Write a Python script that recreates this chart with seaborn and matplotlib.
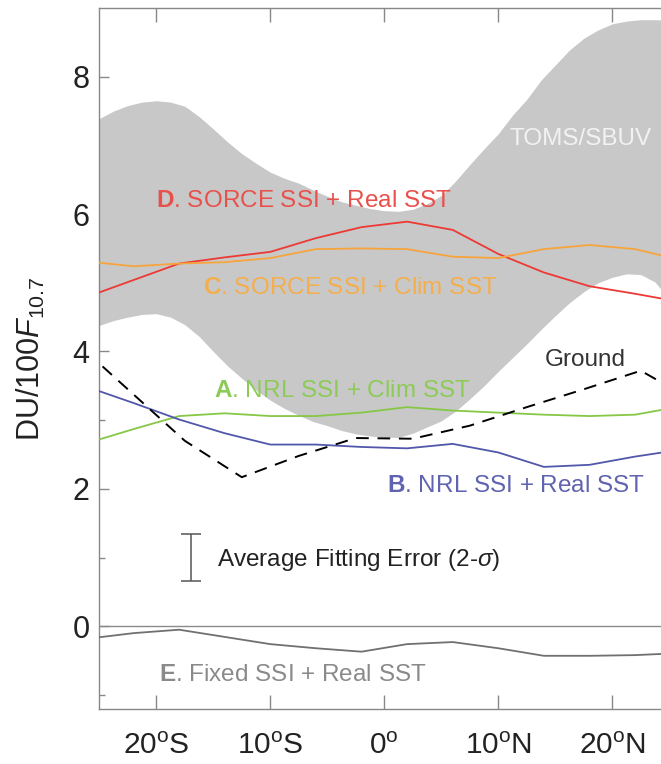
import matplotlib
matplotlib.use("Agg")
import matplotlib.pyplot as plt
import seaborn as sns

# model latitudes (4 degree bins)
lat = [-26, -22, -18, -14, -10, -6, -2, 2, 6, 10, 14, 18, 22, 26]
sorce_real = [4.80, 5.04, 5.28, 5.37, 5.45, 5.65, 5.81, 5.89, 5.77, 5.42, 5.15, 4.95, 4.84, 4.72]
sorce_clim = [5.31, 5.24, 5.28, 5.30, 5.36, 5.49, 5.50, 5.49, 5.38, 5.36, 5.49, 5.55, 5.49, 5.33]
nrl_clim = [2.67, 2.87, 3.06, 3.10, 3.06, 3.06, 3.11, 3.19, 3.14, 3.11, 3.08, 3.06, 3.08, 3.20]
nrl_real = [3.48, 3.25, 3.01, 2.81, 2.645, 2.645, 2.61, 2.59, 2.655, 2.53, 2.32, 2.35, 2.47, 2.57]
fixed_real = [-0.18, -0.10, -0.05, -0.155, -0.26, -0.32, -0.37, -0.26, -0.23, -0.32, -0.43, -0.43, -0.42, -0.39]

# ground stations (5 degree bins)
lat_ground = [-27.5, -22.5, -17.5, -12.5, -7.5, -2.5, 2.5, 7.5, 12.5, 17.5, 22.5, 27.5]
ground = [4.20, 3.45, 2.70, 2.17, 2.48, 2.74, 2.73, 2.92, 3.19, 3.45, 3.72, 3.25]

lat_band = [-26, -25, -23.75, -22.5, -21.25, -20, -18.75, -17.5, -16.25, -15, -13.75,
            -12.5, -11.25, -10, -8.75, -7.5, -6.25, -5, -3.75, -2.5, -1.25, 0,
            1.25, 2.5, 3.75, 5, 6.25, 7.5, 8.75, 10, 11.25, 12.5, 13.75, 15,
            16.25, 17.5, 18.75, 20, 21.25, 22.5, 23.75, 25, 26]
band_hi = [7.30, 7.39, 7.50, 7.58, 7.63, 7.65, 7.63, 7.57, 7.42, 7.24, 7.05,
           6.88, 6.74, 6.61, 6.52, 6.45, 6.35, 6.26, 6.18, 6.13, 6.08, 6.05,
           6.04, 6.07, 6.15, 6.27, 6.48, 6.72, 6.95, 7.17, 7.44, 7.67, 7.95, 8.17,
           8.39, 8.56, 8.68, 8.77, 8.81, 8.83, 8.83, 8.82, 8.80]
band_lo = [4.33, 4.38, 4.45, 4.50, 4.54, 4.55, 4.50, 4.39, 4.22, 4.00, 3.79,
           3.61, 3.44, 3.29, 3.17, 3.07, 2.98, 2.92, 2.85, 2.80, 2.77, 2.75,
           2.75, 2.81, 2.90, 2.99, 3.13, 3.31, 3.50, 3.71, 3.91, 4.11, 4.32, 4.52,
           4.71, 4.87, 5.00, 5.08, 5.13, 5.12, 5.01, 4.76, 4.55]

# fitting error bar
err_lat = -17.0
err_center = 1.0
err_half = 0.345

xticks = [-20, -10, 0, 10, 20]
xticklabels = [r'20$^{\rm o}$S', r'10$^{\rm o}$S', r'0$^{\rm o}$', r'10$^{\rm o}$N', r'20$^{\rm o}$N']

sns.set_style("ticks")
plt.rcParams['font.family'] = ['Liberation Sans', 'DejaVu Sans']
plt.rcParams['mathtext.fontset'] = 'custom'
plt.rcParams['mathtext.rm'] = 'Liberation Sans'
plt.rcParams['mathtext.it'] = 'Liberation Sans:italic'
plt.rcParams['mathtext.bf'] = 'Liberation Sans:bold'

fig = plt.figure(figsize=(6.61, 7.64), dpi=100)
ax = fig.add_axes([99.3 / 661, 1 - 708.7 / 764, 570 / 661, 700.7 / 764])

ax.fill_between(lat_band, band_lo, band_hi, color='#c8c8c8', lw=0, zorder=1)
ax.axhline(0, color='#8a8a8a', lw=1.0, zorder=2)

lw = 1.3
sns.lineplot(x=lat, y=sorce_real, color='#ec3934', lw=lw, ax=ax, zorder=3)
sns.lineplot(x=lat, y=sorce_clim, color='#f7a43c', lw=lw, ax=ax, zorder=3)
sns.lineplot(x=lat, y=nrl_clim, color='#86c746', lw=lw, ax=ax, zorder=3)
sns.lineplot(x=lat, y=nrl_real, color='#5157aa', lw=lw, ax=ax, zorder=3)
sns.lineplot(x=lat, y=fixed_real, color='#707070', lw=lw, ax=ax, zorder=3)
sns.lineplot(x=lat_ground, y=ground, color='black', lw=1.4, ax=ax, zorder=3,
             linestyle=(0, (6.5, 4.5)))

ax.errorbar([err_lat], [err_center], yerr=[err_half], color='#555555', lw=1.1,
            capsize=7.5, capthick=1.1, fmt='none', zorder=3)

fs = 17.5
ax.text(-20.0, 6.10, r'$\mathbf{D}$. SORCE SSI + Real SST', color='#e8504c', fontsize=fs)
ax.text(-15.9, 4.84, r'$\mathbf{C}$. SORCE SSI + Clim SST', color='#f5ae4c', fontsize=fs)
ax.text(-14.95, 3.34, r'$\mathbf{A}$. NRL SSI + Clim SST', color='#8ccb55', fontsize=fs)
ax.text(0.2, 1.95, r'$\mathbf{B}$. NRL SSI + Real SST', color='#5f63b0', fontsize=fs)
ax.text(-19.8, -0.79, r'$\mathbf{E}$. Fixed SSI + Real SST', color='#8a8a8a', fontsize=fs)
ax.text(11.0, 7.00, 'TOMS/SBUV', color='#f2f2f2', fontsize=fs)
ax.text(14.1, 3.79, 'Ground', color='#333333', fontsize=fs)
ax.text(-14.7, 0.88, r'Average Fitting Error (2-$\sigma$)', color='#222222', fontsize=fs)

ax.set_xlim(-25, 25)
ax.set_ylim(-1.2, 9.0)
ax.set_xticks(xticks)
ax.set_xticklabels(xticklabels)
ax.set_yticks([0, 2, 4, 6, 8])
ax.set_yticks([-1, 1, 3, 5, 7], minor=True)

ax.tick_params(axis='x', which='major', direction='in', length=10, width=1.0,
               color='#888888', labelsize=21.5, labelcolor='#222222', pad=17,
               top=True, bottom=True)
ax.tick_params(axis='y', which='major', direction='in', length=7.5, width=1.0,
               color='#888888', labelsize=22, labelcolor='#222222', pad=7)
ax.tick_params(axis='y', which='minor', direction='in', length=4.5, width=1.0,
               color='#888888')

for side in ['left', 'bottom', 'top']:
    ax.spines[side].set_visible(True)
    ax.spines[side].set_color('#888888')
    ax.spines[side].set_linewidth(1.0)
ax.spines['right'].set_visible(False)

ax.set_ylabel(r'DU/100$\mathit{F}_{10.7}$', fontsize=22, color='#222222', labelpad=18)
ax.set_xlabel('')

fig.savefig('out.png', dpi=100)
